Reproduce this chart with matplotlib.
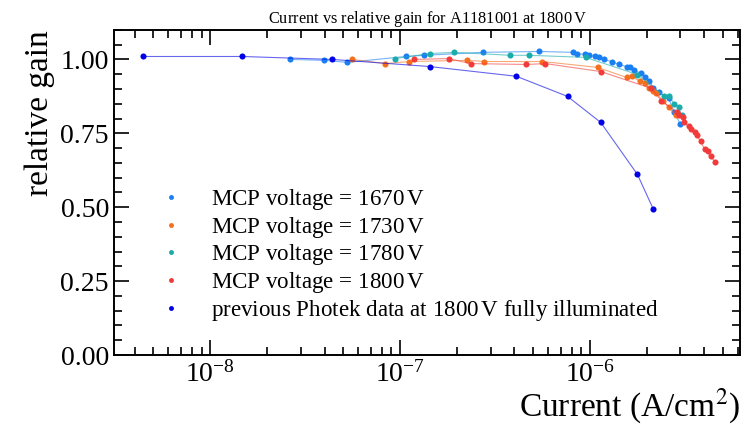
import matplotlib
matplotlib.use("Agg")
import matplotlib.pyplot as plt
from matplotlib.ticker import MultipleLocator, FormatStrFormatter

plt.rcParams["font.family"] = ["Liberation Serif", "DejaVu Serif"]
plt.rcParams["mathtext.fontset"] = "stix"

# current in A/cm^2, gain relative to low-current value
cur_1670 = [2.64e-8, 3.99e-8, 5.27e-8, 1.07e-7, 1.34e-7, 2.72e-7, 5.42e-7, 8.10e-7,
            8.50e-7, 9.37e-7, 9.95e-7, 1.06e-6, 1.12e-6, 1.18e-6, 1.30e-6, 1.42e-6,
            1.56e-6, 1.62e-6, 1.70e-6, 1.87e-6, 1.94e-6, 2.06e-6, 2.16e-6, 2.30e-6,
            2.60e-6, 2.79e-6, 3.00e-6]
gain_1670 = [1.000, 0.997, 0.990, 1.010, 1.014, 1.024, 1.027, 1.024,
             1.020, 1.017, 1.014, 1.010, 1.007, 1.000, 0.993, 0.983,
             0.976, 0.973, 0.963, 0.953, 0.940, 0.926, 0.905, 0.889,
             0.868, 0.821, 0.780]

cur_1730 = [5.61e-8, 8.36e-8, 1.12e-7, 2.26e-7, 2.78e-7, 5.62e-7, 1.10e-6, 1.56e-6,
            1.66e-6, 1.83e-6, 1.94e-6, 2.04e-6, 2.14e-6, 2.24e-6, 2.44e-6, 2.60e-6,
            2.83e-6]
gain_1730 = [1.000, 0.986, 0.993, 0.997, 0.993, 0.993, 0.973, 0.939,
             0.943, 0.926, 0.919, 0.905, 0.892, 0.885, 0.858, 0.838,
             0.811]

cur_1780 = [9.45e-8, 1.43e-7, 1.93e-7, 3.81e-7, 4.75e-7, 9.48e-7, 1.78e-6, 2.47e-6,
            2.60e-6, 2.79e-6, 2.93e-6, 3.04e-6]
gain_1780 = [1.003, 1.020, 1.024, 1.014, 1.014, 1.007, 0.949, 0.875,
             0.878, 0.848, 0.838, 0.811]

cur_1800 = [1.19e-7, 1.80e-7, 2.35e-7, 4.63e-7, 5.83e-7, 1.14e-6, 2.11e-6, 2.38e-6,
            2.86e-6, 2.93e-6, 3.11e-6, 3.15e-6, 3.31e-6, 3.39e-6, 3.56e-6, 3.65e-6,
            3.83e-6, 4.02e-6, 4.17e-6, 4.32e-6, 4.59e-6]
gain_1800 = [1.000, 1.003, 0.986, 0.983, 0.986, 0.959, 0.902, 0.861,
             0.821, 0.811, 0.804, 0.787, 0.774, 0.764, 0.753, 0.743,
             0.723, 0.696, 0.689, 0.672, 0.652]

cur_prev = [4.44e-9, 1.47e-8, 4.40e-8, 1.43e-7, 4.10e-7, 7.62e-7, 1.14e-6, 1.78e-6, 2.16e-6]
gain_prev = [1.010, 1.010, 1.000, 0.976, 0.943, 0.875, 0.787, 0.611, 0.493]

series = [
    (cur_1670, gain_1670, "#1a7ff2", "MCP voltage = 1670$\\,$V"),
    (cur_1730, gain_1730, "#f5701c", "MCP voltage = 1730$\\,$V"),
    (cur_1780, gain_1780, "#1aabab", "MCP voltage = 1780$\\,$V"),
    (cur_1800, gain_1800, "#f23a3a", "MCP voltage = 1800$\\,$V"),
    (cur_prev, gain_prev, "#0000e6", "previous Photek data at 1800$\\,$V fully illuminated"),
]

fig = plt.figure(figsize=(7.44, 4.33), dpi=100)
ax = fig.add_axes([0.153, 0.180, 0.842, 0.751])

for x, y, c, lab in series:
    ax.plot(x, y, "-", color=c, lw=0.8, alpha=0.6)
    ax.plot(x, y, "o", color=c, ms=4.4, mew=0, label=lab, ls="none")

ax.set_xscale("log")
ax.set_xlim(3.1e-9, 6.2e-6)
ax.set_ylim(0, 1.1)
ax.yaxis.set_major_locator(MultipleLocator(0.25))
ax.yaxis.set_minor_locator(MultipleLocator(0.05))
ax.yaxis.set_major_formatter(FormatStrFormatter("%.2f"))

ax.tick_params(which="both", direction="in", top=True, right=True, width=1.2, labelsize=20)
ax.tick_params(which="major", length=11)
ax.tick_params(which="minor", length=5.5)
ax.tick_params(axis="x", pad=4)
for s in ax.spines.values():
    s.set_linewidth(1.4)

ax.set_title("Current vs relative gain for A1181001 at 1800$\\,$V", fontsize=11.8, pad=5)
ax.set_xlabel("Current (A/cm$^2$)", fontsize=24, loc="right", labelpad=0)
ax.set_ylabel("relative gain", fontsize=24, loc="top")

ax.legend(loc="lower left", bbox_to_anchor=(0.03, 0.035), frameon=False, fontsize=16.6,
          handletextpad=1.0, labelspacing=0.12, markerscale=0.8, handlelength=1.5)

fig.savefig("out.png", dpi=100)
